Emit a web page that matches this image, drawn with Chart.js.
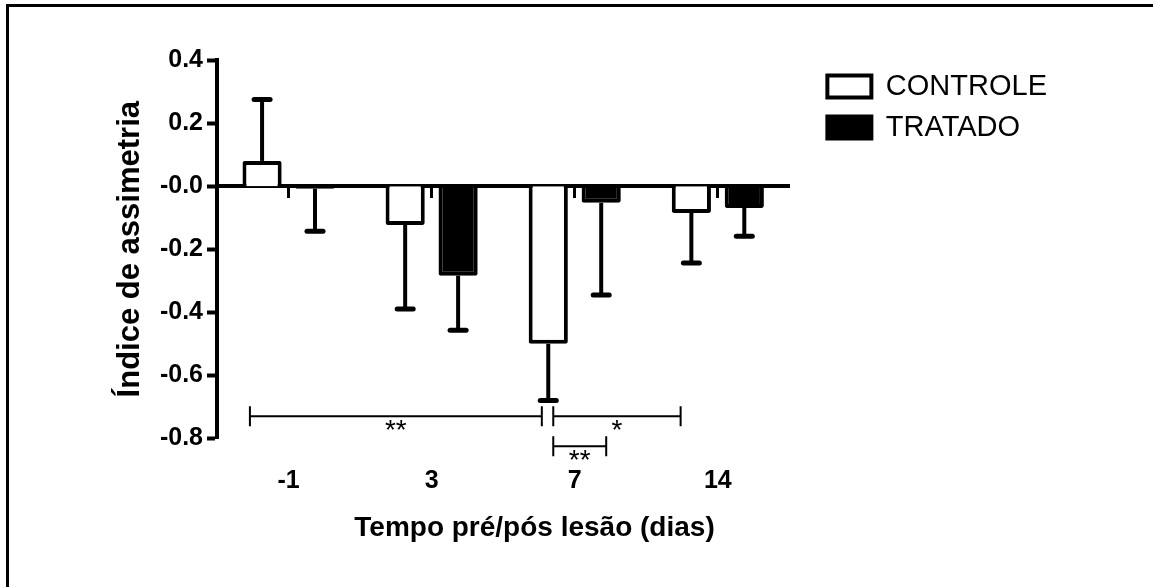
<!DOCTYPE html>
<html lang="pt">
<head>
<meta charset="utf-8">
<title>Índice de assimetria</title>
<script src="https://cdn.jsdelivr.net/npm/chart.js@4.4.0/dist/chart.umd.min.js"></script>
<style>
  html, body { margin: 0; padding: 0; background: #fff; overflow: hidden; }
  .moldura { position: absolute; left: 6px; top: 4px; width: 1300px; height: 700px;
             border-left: 3px solid #000; border-top: 3px solid #000; }
  #grafico { position: absolute; left: 0; top: 0; }
</style>
</head>
<body>
<div class="moldura"></div>
<canvas id="grafico" width="1153" height="587"></canvas>
<script>
// Valores
const categorias = ['-1', '3', '7', '14'];
const controle = [0.08, -0.123, -0.50, -0.085];
const controleErro = [0.195, 0.267, 0.18, 0.159];
const tratado = [-0.008, -0.284, -0.053, -0.069];
const tratadoErro = [0.135, 0.173, 0.292, 0.09];

const yValores = [0.4, 0.2, 0, -0.2, -0.4, -0.6, -0.8];
const yRotulos = ['0.4', '0.2', '-0.0', '-0.2', '-0.4', '-0.6', '-0.8'];

// Comparações (em unidades de categoria no x, valor no y)
const compDe = [-0.27, 1.85, 1.85];
const compAte = [1.77, 2.74, 2.22];
const compNivel = [-0.73, -0.73, -0.825];
const compRotulo = ['**', '*', '**'];

const fonte = '"Liberation Sans", Arial, sans-serif';
Chart.defaults.font.family = fonte;
Chart.defaults.color = '#000';

// Barras de erro (só para fora da barra)
const barrasDeErro = {
    id: 'barrasDeErro',
    afterDatasetsDraw(chart) {
        const ctx = chart.ctx;
        const y = chart.scales.y;
        chart.data.datasets.forEach((ds, d) => {
            chart.getDatasetMeta(d).data.forEach((barra, i) => {
                const v = ds.data[i];
                const fim = y.getPixelForValue(v >= 0 ? v + ds.erros[i] : v - ds.erros[i]);
                ctx.save();
                ctx.strokeStyle = '#000';
                ctx.lineWidth = 4;
                ctx.beginPath();
                ctx.moveTo(barra.x, barra.y);
                ctx.lineTo(barra.x, fim);
                ctx.stroke();
                ctx.lineWidth = 5;
                ctx.lineCap = 'round';
                ctx.beginPath();
                ctx.moveTo(barra.x - 8, fim);
                ctx.lineTo(barra.x + 8, fim);
                ctx.stroke();
                ctx.restore();
            });
        });
    }
};

// Colchetes de significância
const comparacoes = {
    id: 'comparacoes',
    afterDraw(chart) {
        const { ctx, scales: { x, y } } = chart;
        ctx.save();
        ctx.strokeStyle = '#000';
        ctx.fillStyle = '#000';
        ctx.lineWidth = 2;
        ctx.font = '28px ' + fonte;
        ctx.textAlign = 'center';
        ctx.textBaseline = 'top';
        compRotulo.forEach((rotulo, i) => {
            const x1 = x.getPixelForValue(compDe[i]);
            const x2 = x.getPixelForValue(compAte[i]);
            const yy = y.getPixelForValue(compNivel[i]);
            ctx.beginPath();
            ctx.moveTo(x1, yy - 10); ctx.lineTo(x1, yy + 10);
            ctx.moveTo(x1, yy); ctx.lineTo(x2, yy);
            ctx.moveTo(x2, yy - 10); ctx.lineTo(x2, yy + 10);
            ctx.stroke();
            ctx.fillText(rotulo, (x1 + x2) / 2, yy + 1);
        });
        ctx.restore();
    }
};

new Chart(document.getElementById('grafico'), {
    type: 'bar',
    data: {
        labels: categorias,
        datasets: [
            {
                label: 'CONTROLE',
                data: controle,
                erros: controleErro,
                backgroundColor: '#fff',
                borderColor: '#000',
                borderWidth: 4,
                xAxisID: 'x',
                yAxisID: 'y'
            },
            {
                label: 'TRATADO',
                data: tratado,
                erros: tratadoErro,
                backgroundColor: '#000',
                borderColor: '#000',
                borderWidth: 4,
                xAxisID: 'x',
                yAxisID: 'y'
            }
        ]
    },
    options: {
        responsive: false,
        animation: false,
        datasets: {
            bar: { categoryPercentage: 0.74, barPercentage: 0.74, borderRadius: 2 }
        },
        layout: { padding: { left: 12, top: 60, right: 96, bottom: 0 } },
        plugins: {
            legend: {
                position: 'right',
                align: 'start',
                maxWidth: 300,
                labels: { boxWidth: 44, boxHeight: 22, padding: 12, color: '#000', font: { size: 29 } }
            },
            title: {
                display: true,
                position: 'bottom',
                text: 'Tempo pré/pós lesão (dias)',
                color: '#000',
                font: { size: 28, weight: 'bold' },
                padding: { top: 0, bottom: 42 }
            },
            tooltip: { enabled: false }
        },
        scales: {
            x: {
                type: 'category',
                offset: true,
                grid: { display: false, drawTicks: false },
                border: { display: false },
                ticks: { padding: 28, font: { size: 25, weight: 'bold' } },
                afterFit: (s) => { s.height = 73; }
            },
            xZero: {
                type: 'category',
                axis: 'x',
                position: { y: 0 },
                offset: true,
                z: 1,
                grid: { display: true, drawOnChartArea: false, offset: false, drawTicks: true,
                        tickLength: 10, tickWidth: 3, tickColor: '#000' },
                border: { display: true, color: '#000', width: 4 },
                ticks: { display: false },
                afterFit: (s) => { s.height = 0; }
            },
            y: {
                min: -0.8,
                max: 0.4,
                ticks: {
                    stepSize: 0.2,
                    padding: 4,
                    font: { size: 25, weight: 'bold' },
                    callback: (v) => {
                        const i = yValores.findIndex(t => Math.abs(t - v) < 1e-6);
                        return i >= 0 ? yRotulos[i] : '';
                    }
                },
                grid: { display: true, drawOnChartArea: false, drawTicks: true,
                        tickLength: 10, tickWidth: 4, tickColor: '#000' },
                border: { display: true, color: '#000', width: 4 },
                title: {
                    display: true,
                    text: 'Índice de assimetria',
                    font: { size: 31, weight: 'bold' },
                    padding: { top: 100, bottom: 0 }
                },
                afterFit: (s) => { s.width = 205; }
            },
            folga: {
                type: 'linear',
                axis: 'y',
                position: 'right',
                display: true,
                grid: { display: false, drawTicks: false },
                border: { display: false },
                ticks: { display: false },
                afterFit: (s) => { s.width = 26; }
            }
        }
    },
    plugins: [barrasDeErro, comparacoes]
});
</script>
</body>
</html>
